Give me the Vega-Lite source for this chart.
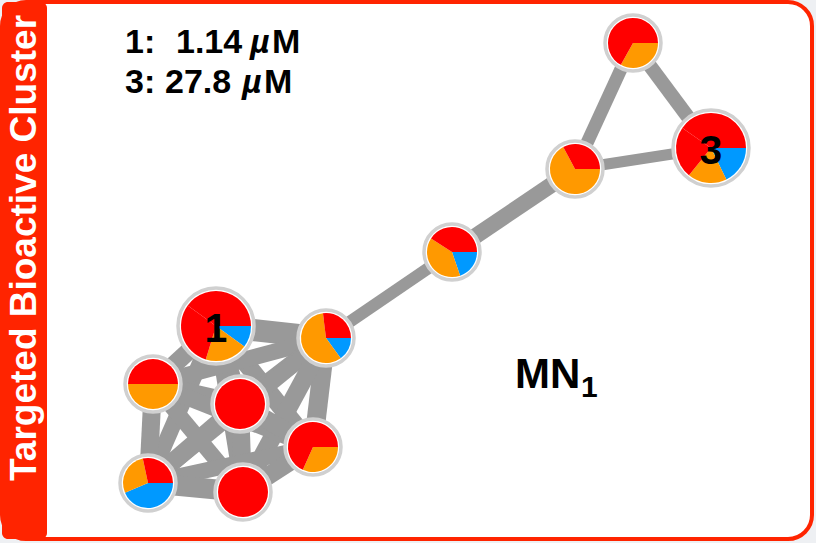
{
  "$schema": "https://vega.github.io/schema/vega-lite/v6.json",
  "width": 816,
  "height": 543,
  "autosize": {"type": "fit", "contains": "padding"},
  "padding": {"left": 2, "top": 2, "right": 4, "bottom": 4},
  "background": "#eef0f3",
  "config": {
    "view": {"stroke": "#ff2400", "strokeWidth": 4, "cornerRadius": 24, "fill": "white"},
    "font": "Liberation Sans"
  },
  "datasets": {
    "nodes": [
      {"id": "A", "x": 216, "y": 326, "active": true, "label": "1"},
      {"id": "B", "x": 326, "y": 338, "active": false, "label": ""},
      {"id": "C", "x": 153, "y": 384, "active": false, "label": ""},
      {"id": "D", "x": 240, "y": 404, "active": false, "label": ""},
      {"id": "E", "x": 313, "y": 447, "active": false, "label": ""},
      {"id": "F", "x": 148, "y": 483, "active": false, "label": ""},
      {"id": "G", "x": 243, "y": 492, "active": false, "label": ""},
      {"id": "H", "x": 452, "y": 252, "active": false, "label": ""},
      {"id": "I", "x": 575, "y": 169, "active": false, "label": ""},
      {"id": "J", "x": 633, "y": 43, "active": false, "label": ""},
      {"id": "K", "x": 711, "y": 148, "active": true, "label": "3"}
    ],
    "edges": [
      {"source": "A", "target": "B", "weight": 22},
      {"source": "A", "target": "C", "weight": 18},
      {"source": "A", "target": "D", "weight": 18},
      {"source": "A", "target": "E", "weight": 18},
      {"source": "A", "target": "F", "weight": 16},
      {"source": "A", "target": "G", "weight": 16},
      {"source": "B", "target": "C", "weight": 16},
      {"source": "B", "target": "D", "weight": 18},
      {"source": "B", "target": "E", "weight": 19},
      {"source": "B", "target": "F", "weight": 16},
      {"source": "B", "target": "G", "weight": 18},
      {"source": "C", "target": "D", "weight": 18},
      {"source": "C", "target": "E", "weight": 16},
      {"source": "C", "target": "F", "weight": 18},
      {"source": "C", "target": "G", "weight": 16},
      {"source": "D", "target": "E", "weight": 18},
      {"source": "D", "target": "F", "weight": 18},
      {"source": "D", "target": "G", "weight": 18},
      {"source": "E", "target": "F", "weight": 16},
      {"source": "E", "target": "G", "weight": 18},
      {"source": "F", "target": "G", "weight": 20},
      {"source": "B", "target": "H", "weight": 12},
      {"source": "H", "target": "I", "weight": 16},
      {"source": "I", "target": "J", "weight": 13},
      {"source": "I", "target": "K", "weight": 11},
      {"source": "J", "target": "K", "weight": 14}
    ],
    "slices": [
      {"id": "A", "cls": "Class 3", "start": 90, "end": 126},
      {"id": "A", "cls": "Class 2", "start": 126, "end": 197},
      {"id": "A", "cls": "Class 1", "start": 197, "end": 306},
      {"id": "A", "cls": "Class 1", "start": 306, "end": 450},
      {"id": "B", "cls": "Class 3", "start": 90, "end": 144},
      {"id": "B", "cls": "Class 2", "start": 144, "end": 353},
      {"id": "B", "cls": "Class 1", "start": 353, "end": 450},
      {"id": "C", "cls": "Class 2", "start": 90, "end": 270},
      {"id": "C", "cls": "Class 1", "start": 270, "end": 450},
      {"id": "D", "cls": "Class 1", "start": 90, "end": 450},
      {"id": "E", "cls": "Class 2", "start": 90, "end": 204},
      {"id": "E", "cls": "Class 1", "start": 204, "end": 450},
      {"id": "F", "cls": "Class 3", "start": 90, "end": 247},
      {"id": "F", "cls": "Class 2", "start": 247, "end": 348},
      {"id": "F", "cls": "Class 1", "start": 348, "end": 450},
      {"id": "G", "cls": "Class 1", "start": 90, "end": 450},
      {"id": "H", "cls": "Class 3", "start": 90, "end": 161},
      {"id": "H", "cls": "Class 2", "start": 161, "end": 303},
      {"id": "H", "cls": "Class 1", "start": 303, "end": 450},
      {"id": "I", "cls": "Class 2", "start": 90, "end": 332},
      {"id": "I", "cls": "Class 1", "start": 332, "end": 450},
      {"id": "J", "cls": "Class 2", "start": 90, "end": 209},
      {"id": "J", "cls": "Class 1", "start": 209, "end": 450},
      {"id": "K", "cls": "Class 3", "start": 90, "end": 154},
      {"id": "K", "cls": "Class 2", "start": 154, "end": 219},
      {"id": "K", "cls": "Class 1", "start": 219, "end": 305},
      {"id": "K", "cls": "Class 1", "start": 305, "end": 450}
    ]
  },
  "layer": [
    {
      "data": {"name": "edges"},
      "transform": [
        {"lookup": "source", "from": {"data": {"name": "nodes"}, "key": "id", "fields": ["x", "y"]}, "as": ["x1", "y1"]},
        {"lookup": "target", "from": {"data": {"name": "nodes"}, "key": "id", "fields": ["x", "y"]}, "as": ["x2", "y2"]}
      ],
      "mark": {"type": "rule", "color": "#999999", "strokeCap": "butt"},
      "encoding": {
        "x": {"field": "x1", "type": "quantitative", "scale": {"domain": [2, 812], "nice": false, "zero": false}, "axis": null},
        "y": {"field": "y1", "type": "quantitative", "scale": {"domain": [2, 539], "nice": false, "zero": false, "reverse": true}, "axis": null},
        "x2": {"field": "x2"},
        "y2": {"field": "y2"},
        "strokeWidth": {"field": "weight", "type": "quantitative", "scale": {"type": "linear", "domain": [0, 25], "range": [0, 25]}, "legend": null}
      }
    },
    {
      "data": {"name": "nodes"},
      "transform": [{"filter": "datum.active"}],
      "mark": {"type": "point", "shape": "circle", "filled": true, "fill": "white", "stroke": "#d0d0d0", "strokeWidth": 3.5, "size": 5776, "opacity": 1},
      "encoding": {
        "x": {"field": "x", "type": "quantitative"},
        "y": {"field": "y", "type": "quantitative"}
      }
    },
    {
      "data": {"name": "nodes"},
      "transform": [{"filter": "!datum.active"}],
      "mark": {"type": "point", "shape": "circle", "filled": true, "fill": "white", "stroke": "#d0d0d0", "strokeWidth": 3.5, "size": 3136, "opacity": 1},
      "encoding": {
        "x": {"field": "x", "type": "quantitative"},
        "y": {"field": "y", "type": "quantitative"}
      }
    },
    {
      "data": {"name": "slices"},
      "transform": [
        {"lookup": "id", "from": {"data": {"name": "nodes"}, "key": "id", "fields": ["x", "y", "active"]}},
        {"filter": "datum.active"}
      ],
      "mark": {"type": "arc", "radius": 35},
      "encoding": {
        "x": {"field": "x", "type": "quantitative"},
        "y": {"field": "y", "type": "quantitative"},
        "theta": {"field": "start", "type": "quantitative", "stack": null, "scale": {"type": "linear", "domain": [0, 360], "range": [0, 6.283185307179586]}},
        "theta2": {"field": "end"},
        "color": {"field": "cls", "type": "nominal", "scale": {"domain": ["Class 1", "Class 2", "Class 3"], "range": ["#ff0000", "#ff9900", "#0099ff"]}, "legend": null}
      }
    },
    {
      "data": {"name": "slices"},
      "transform": [
        {"lookup": "id", "from": {"data": {"name": "nodes"}, "key": "id", "fields": ["x", "y", "active"]}},
        {"filter": "!datum.active"}
      ],
      "mark": {"type": "arc", "radius": 25},
      "encoding": {
        "x": {"field": "x", "type": "quantitative"},
        "y": {"field": "y", "type": "quantitative"},
        "theta": {"field": "start", "type": "quantitative", "stack": null, "scale": {"type": "linear", "domain": [0, 360], "range": [0, 6.283185307179586]}},
        "theta2": {"field": "end"},
        "color": {"field": "cls", "type": "nominal", "legend": null}
      }
    },
    {
      "data": {"name": "nodes"},
      "transform": [{"filter": "datum.label != ''"}],
      "mark": {"type": "text", "font": "Liberation Sans", "fontWeight": "bold", "fontSize": 41, "color": "black", "align": "center", "baseline": "alphabetic", "dy": 16},
      "encoding": {
        "x": {"field": "x", "type": "quantitative"},
        "y": {"field": "y", "type": "quantitative"},
        "text": {"field": "label"}
      }
    },
    {
      "data": {"values": [{}]},
      "layer": [
        {
          "mark": {"type": "rect", "color": "#ff2400", "cornerRadius": 6},
          "encoding": {"x": {"datum": 2}, "x2": {"datum": 47}, "y": {"datum": 2}, "y2": {"datum": 539}}
        },
        {
          "mark": {"type": "text", "text": "Targeted Bioactive Cluster", "angle": 270, "font": "Liberation Sans", "fontWeight": "bold", "fontSize": 37, "color": "white", "align": "center", "baseline": "alphabetic"},
          "encoding": {"x": {"datum": 36}, "y": {"datum": 248}}
        },
        {
          "mark": {"type": "text", "text": "1:", "font": "Liberation Sans", "fontWeight": "bold", "fontSize": 34, "color": "black", "align": "left", "baseline": "alphabetic"},
          "encoding": {"x": {"datum": 125}, "y": {"datum": 53}}
        },
        {
          "mark": {"type": "text", "text": "1.14", "font": "Liberation Sans", "fontWeight": "bold", "fontSize": 34, "color": "black", "align": "left", "baseline": "alphabetic"},
          "encoding": {"x": {"datum": 176}, "y": {"datum": 53}}
        },
        {
          "mark": {"type": "text", "text": "µ", "font": "Liberation Sans", "fontWeight": "bold", "fontStyle": "italic", "fontSize": 34, "color": "black", "align": "left", "baseline": "alphabetic"},
          "encoding": {"x": {"datum": 250}, "y": {"datum": 53}}
        },
        {
          "mark": {"type": "text", "text": "M", "font": "Liberation Sans", "fontWeight": "bold", "fontSize": 34, "color": "black", "align": "left", "baseline": "alphabetic"},
          "encoding": {"x": {"datum": 272}, "y": {"datum": 53}}
        },
        {
          "mark": {"type": "text", "text": "3:", "font": "Liberation Sans", "fontWeight": "bold", "fontSize": 34, "color": "black", "align": "left", "baseline": "alphabetic"},
          "encoding": {"x": {"datum": 125}, "y": {"datum": 93}}
        },
        {
          "mark": {"type": "text", "text": "27.8", "font": "Liberation Sans", "fontWeight": "bold", "fontSize": 34, "color": "black", "align": "left", "baseline": "alphabetic"},
          "encoding": {"x": {"datum": 165}, "y": {"datum": 93}}
        },
        {
          "mark": {"type": "text", "text": "µ", "font": "Liberation Sans", "fontWeight": "bold", "fontStyle": "italic", "fontSize": 34, "color": "black", "align": "left", "baseline": "alphabetic"},
          "encoding": {"x": {"datum": 242}, "y": {"datum": 93}}
        },
        {
          "mark": {"type": "text", "text": "M", "font": "Liberation Sans", "fontWeight": "bold", "fontSize": 34, "color": "black", "align": "left", "baseline": "alphabetic"},
          "encoding": {"x": {"datum": 264}, "y": {"datum": 93}}
        },
        {
          "mark": {"type": "text", "text": "MN", "font": "Liberation Sans", "fontWeight": "bold", "fontSize": 42, "color": "black", "align": "left", "baseline": "alphabetic"},
          "encoding": {"x": {"datum": 515}, "y": {"datum": 388}}
        },
        {
          "mark": {"type": "text", "text": "1", "font": "Liberation Sans", "fontWeight": "bold", "fontSize": 30, "color": "black", "align": "left", "baseline": "alphabetic"},
          "encoding": {"x": {"datum": 581}, "y": {"datum": 397}}
        }
      ]
    }
  ]
}
